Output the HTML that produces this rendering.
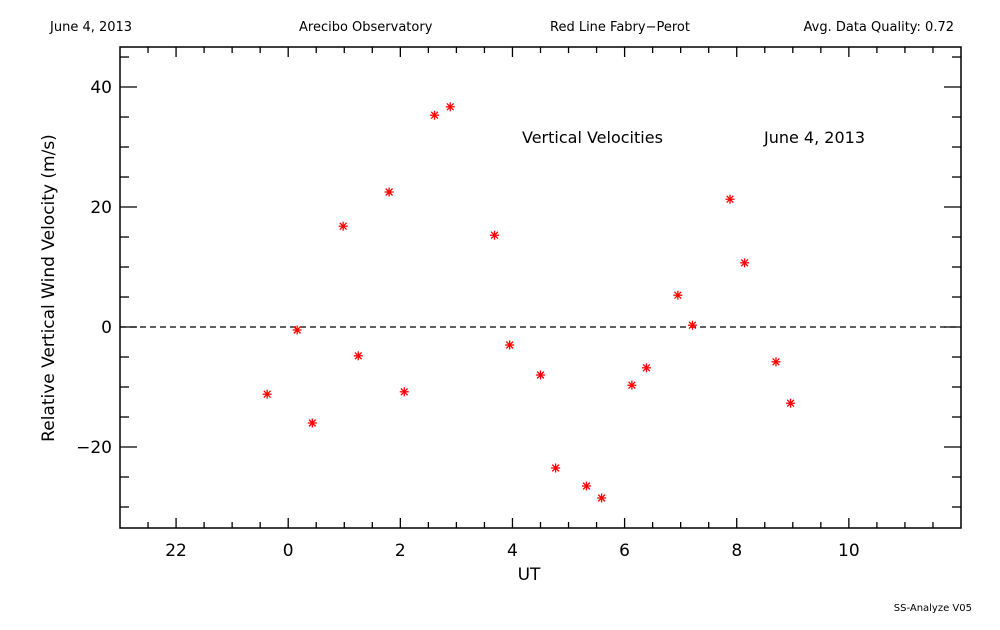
<!DOCTYPE html>
<html><head><meta charset="utf-8"><style>
body{margin:0;background:#fff;}
svg text{font-family:"DejaVu Sans","Liberation Sans",sans-serif;fill:#000;}
</style></head><body>
<svg id="c" width="1000" height="625" viewBox="0 0 1000 625">
<text x="50" y="31" font-size="13">June 4, 2013</text>
<text x="299" y="31" font-size="13">Arecibo Observatory</text>
<text x="550" y="31" font-size="13">Red Line Fabry−Perot</text>
<text x="954" y="31" font-size="13" text-anchor="end">Avg. Data Quality: 0.72</text>
<text x="522" y="143" font-size="16">Vertical Velocities</text>
<text x="764" y="143" font-size="16">June 4, 2013</text>
<text x="972" y="611" font-size="10" text-anchor="end">SS-Analyze V05</text>
<text x="529" y="580" font-size="17" text-anchor="middle">UT</text>
<text transform="translate(54,288) rotate(-90)" font-size="17" text-anchor="middle">Relative Vertical Wind Velocity (m/s)</text>
<g id="axes"></g>
<g id="marks"></g>
</svg>
<script>
const hours=[-0.375,0.16,0.43,0.98,1.25,1.8,2.07,2.61,2.89,3.68,3.95,4.5,4.77,5.32,5.59,6.13,6.39,6.95,7.21,7.88,8.14,8.7,8.96];
const velocities=[-11.2,-0.5,-16,16.8,-4.8,22.5,-10.8,35.3,36.7,15.3,-3,-8,-23.5,-26.5,-28.5,-9.7,-6.8,5.3,0.3,21.3,10.7,-5.8,-12.7];
const xTicks=[-2,0,2,4,6,8,10];
const xTickLabels=["22","0","2","4","6","8","10"];
const yTicks=[-20,0,20,40];
const yTickLabels=["−20","0","20","40"];
const X0=120,X1=961,Y0=47,Y1=528;
const xmin=-3,xmax=12,ymin=-33.5,ymax=46.67;
function xs(h){return X0+(h-xmin)/(xmax-xmin)*(X1-X0);}
function ys(v){return Y1-(v-ymin)/(ymax-ymin)*(Y1-Y0);}
const NS="http://www.w3.org/2000/svg";
const ax=document.getElementById('axes'),mk=document.getElementById('marks');
function ln(p,x1,y1,x2,y2,st,w,dash){const l=document.createElementNS(NS,'line');l.setAttribute('x1',x1);l.setAttribute('y1',y1);l.setAttribute('x2',x2);l.setAttribute('y2',y2);l.setAttribute('stroke',st);l.setAttribute('stroke-width',w||1);if(dash)l.setAttribute('stroke-dasharray',dash);p.appendChild(l);return l;}
const fr=document.createElementNS(NS,'rect');
fr.setAttribute('x',X0);fr.setAttribute('y',Y0);fr.setAttribute('width',X1-X0);fr.setAttribute('height',Y1-Y0);fr.setAttribute('fill','none');fr.setAttribute('stroke','#000');fr.setAttribute('stroke-width','1.5');


ax.appendChild(fr);
for(let h=-2.5;h<12;h+=0.5){const x=xs(h);const major=Math.abs(h%2)<1e-9;const L=major?10:6;ln(ax,x,Y1,x,Y1-L,'#000',1.3);ln(ax,x,Y0,x,Y0+L,'#000',1.3);}
for(let v=-30;v<=45;v+=5){const y=ys(v);const major=v%20===0;const L=major?17:9;ln(ax,X0,y,X0+L,y,'#000',1.3);ln(ax,X1,y,X1-L,y,'#000',1.3);}
xTicks.forEach((h,i)=>{const t=document.createElementNS(NS,'text');t.setAttribute('x',xs(h));t.setAttribute('y',Y1+28);t.setAttribute('font-size','17');t.setAttribute('text-anchor','middle');t.textContent=xTickLabels[i];


ax.appendChild(t);});
yTicks.forEach((v,i)=>{const t=document.createElementNS(NS,'text');t.setAttribute('x',X0-8);t.setAttribute('y',ys(v)+6);t.setAttribute('font-size','17');t.setAttribute('text-anchor','end');t.textContent=yTickLabels[i];


ax.appendChild(t);});
const zl=ln(ax,X0,ys(0),X1,ys(0),'#000',1.3,'6,4');


hours.forEach((h,i)=>{const cx=xs(h),cy=ys(velocities[i]);const g=document.createElementNS(NS,'g');


const r=4.5;ln(g,cx-r,cy,cx+r,cy,'#f00',1.3);ln(g,cx,cy-r,cx,cy+r,'#f00',1.3);ln(g,cx-r*0.75,cy-r*0.75,cx+r*0.75,cy+r*0.75,'#f00',1.3);ln(g,cx-r*0.75,cy+r*0.75,cx+r*0.75,cy-r*0.75,'#f00',1.3);mk.appendChild(g);});
</script>
</body></html>
